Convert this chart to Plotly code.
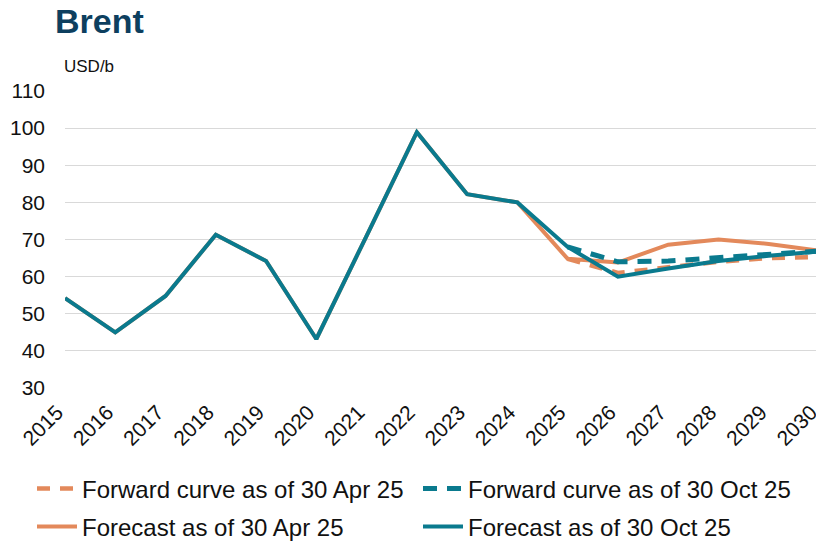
import plotly.graph_objects as go

years = list(range(2015, 2031))
fc_oct = [54.2, 45.0, 54.8, 71.3, 64.2, 43.2, 71.0, 98.9, 82.2, 80.0, 68.0, 60.0, 62.2, 64.2, 65.6, 66.8]
fc_apr = [54.2, 45.0, 54.8, 71.3, 64.2, 43.2, 71.0, 98.9, 82.2, 80.0, 64.8, 63.8, 68.6, 70.0, 68.8, 67.0]
fwd_years = list(range(2025, 2031))
fwd_apr = [64.8, 61.0, 62.5, 64.0, 65.0, 65.3]
fwd_oct = [68.0, 64.0, 64.2, 65.2, 66.1, 66.9]
yticks = [30, 40, 50, 60, 70, 80, 90, 100, 110]

ORANGE = "#E3895B"
TEAL = "#0A7A8E"
# the page body has an 8px default margin, so the figure is sized/positioned to compensate
OFF = 8
W, H = 824 - OFF, 545 - OFF
L, R, T, B = 65 - OFF, 4, 91 - OFF, 157

fig = go.Figure()
fig.add_trace(go.Scatter(x=fwd_years, y=fwd_apr, mode="lines", name="Forward curve as of 30 Apr 25",
                         line=dict(color=ORANGE, width=4.5, dash="13px,10px"), legend="legend"))
fig.add_trace(go.Scatter(x=years, y=fc_apr, mode="lines", name="Forecast as of 30 Apr 25",
                         line=dict(color=ORANGE, width=4), legend="legend3"))
fig.add_trace(go.Scatter(x=years, y=fc_oct, mode="lines", name="Forecast as of 30 Oct 25",
                         line=dict(color=TEAL, width=4), legend="legend4"))
fig.add_trace(go.Scatter(x=fwd_years, y=fwd_oct, mode="lines", name="Forward curve as of 30 Oct 25",
                         line=dict(color=TEAL, width=5, dash="14px,10px"), legend="legend2"))

font_family = "Liberation Sans, Arial, sans-serif"


def leg(xpx, ypx):
    return dict(orientation="h", xref="container", yref="container",
                x=xpx / W, xanchor="left", y=1 - (ypx - OFF) / H, yanchor="middle",
                font=dict(size=24), bgcolor="rgba(0,0,0,0)", itemwidth=40)


fig.update_layout(
    width=W, height=H, showlegend=True,
    margin=dict(l=L, r=R, t=T, b=B, autoexpand=False),
    paper_bgcolor="white", plot_bgcolor="white",
    font=dict(family=font_family, color="#111111", size=20),
    title=dict(text="<b>Brent</b>", x=(55 - OFF) / W, xref="container", xanchor="left",
               y=1 - (21 - OFF) / H, yref="container", yanchor="middle",
               font=dict(size=34, color="#0D3F5F", family=font_family)),
    xaxis=dict(range=[2015, 2030.02], tickmode="array", tickvals=years, ticktext=[str(y) for y in years],
               tickangle=-45, showgrid=False, zeroline=False, showline=False, ticks="",
               tickfont=dict(size=21), automargin=False, ticklabelstandoff=7,
               ticklabelshift=-8, ticklabeloverflow="allow"),
    yaxis=dict(range=[30, 110], tickmode="array", tickvals=yticks, showgrid=True,
               gridcolor="#D9D9D9", gridwidth=1.2, zeroline=False, showline=False, ticks="",
               tickfont=dict(size=21), ticklabelstandoff=19, automargin=False),
    legend=leg(24, 489),
    legend2=leg(410, 489),
    legend3=leg(24, 527),
    legend4=leg(410, 527),
    annotations=[dict(text="USD/b", x=(62 - 65) / (W - L - R), xref="paper",
                      y=(388 - 66) / (388 - 91), yref="paper", showarrow=False,
                      xanchor="left", yanchor="middle", font=dict(size=17))],
)
fig.write_html("out.html")
